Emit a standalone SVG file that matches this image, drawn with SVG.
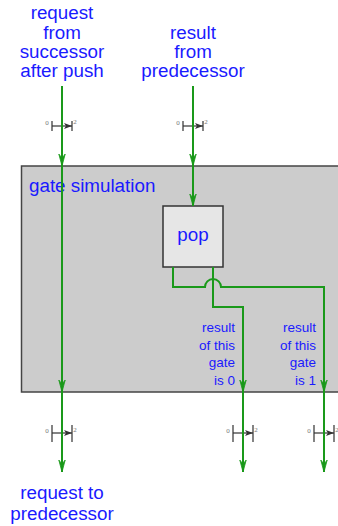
<svg xmlns="http://www.w3.org/2000/svg" width="338" height="526" viewBox="0 0 338 526">
<style>
.lbl{font-family:"Liberation Sans",Arial,sans-serif;fill:#1a1aff;font-size:18.8px;text-anchor:middle}
.sm{font-family:"Liberation Sans",Arial,sans-serif;fill:#1a1aff;font-size:13.5px;text-anchor:end}
.wire{fill:none;stroke:#1a991a;stroke-width:2}
.dl{stroke:#333;stroke-width:1.2;fill:none}
.dt{font-family:"Liberation Serif",serif;font-size:7px;fill:#777;text-anchor:middle}
</style>
<defs>
<marker id="ah" viewBox="0 0 12 8" refX="12" refY="4" markerWidth="12" markerHeight="8" markerUnits="userSpaceOnUse" orient="auto">
<path d="M0,0.8 L12,4 L0,7.2 L4,4 Z" fill="#1a991a" stroke="#1a991a" stroke-width="0.8" stroke-linejoin="round"/>
</marker>
<marker id="dh" viewBox="0 0 8 6" refX="8" refY="3" markerWidth="8" markerHeight="6" markerUnits="userSpaceOnUse" orient="auto">
<path d="M0,0 L8,3 L0,6 L2,3 Z" fill="#333"/>
</marker>
</defs>
<g id="gate-simulation">
<rect x="21.5" y="166" width="330" height="226" fill="#cccccc" stroke="#444" stroke-width="1.5"/>
<text class="lbl" x="29" y="192" style="text-anchor:start">gate simulation</text>
</g>
<g id="pop">
<rect x="163" y="206" width="60" height="61" fill="#e6e6e6" stroke="#333" stroke-width="1.5"/>
<text class="lbl" x="193" y="241">pop</text>
</g>
<g id="label-request-from-successor">
<text class="lbl" x="62" y="19">request</text>
<text class="lbl" x="62" y="39">from</text>
<text class="lbl" x="62" y="58">successor</text>
<text class="lbl" x="62" y="77">after push</text>
</g>
<g id="label-result-from-predecessor">
<text class="lbl" x="193" y="39">result</text>
<text class="lbl" x="193" y="58">from</text>
<text class="lbl" x="193" y="77">predecessor</text>
</g>
<g id="label-result-0">
<text class="sm" x="235" y="332">result</text>
<text class="sm" x="235" y="349.5">of this</text>
<text class="sm" x="235" y="367">gate</text>
<text class="sm" x="235" y="385">is 0</text>
</g>
<g id="label-result-1">
<text class="sm" x="316" y="332">result</text>
<text class="sm" x="316" y="349.5">of this</text>
<text class="sm" x="316" y="367">gate</text>
<text class="sm" x="316" y="385">is 1</text>
</g>
<g id="label-request-to-predecessor">
<text class="lbl" x="62" y="499">request to</text>
<text class="lbl" x="62" y="520">predecessor</text>
</g>
<g id="delay-top-left">
<path class="dl" d="M52,121 V131 M72,121 V131"/>
<path class="dl" d="M52,126 H72" marker-end="url(#dh)"/>
<text class="dt" x="47" y="125">0</text><text class="dt" x="75" y="124">2</text>
</g>
<g id="delay-top-mid">
<path class="dl" d="M183,121 V131 M203,121 V131"/>
<path class="dl" d="M183,126 H203" marker-end="url(#dh)"/>
<text class="dt" x="178" y="125">0</text><text class="dt" x="206" y="124">2</text>
</g>
<g id="delay-bottom-left">
<path class="dl" d="M52,425 V442 M72,425 V442"/>
<path class="dl" d="M52,433 H72" marker-end="url(#dh)"/>
<text class="dt" x="47" y="433">0</text><text class="dt" x="75" y="432">2</text>
</g>
<g id="delay-bottom-mid">
<path class="dl" d="M233,425 V442 M253,425 V442"/>
<path class="dl" d="M233,433 H253" marker-end="url(#dh)"/>
<text class="dt" x="228" y="433">0</text><text class="dt" x="256" y="432">2</text>
</g>
<g id="delay-bottom-right">
<path class="dl" d="M314,425 V442 M334,425 V442"/>
<path class="dl" d="M314,433 H334" marker-end="url(#dh)"/>
<text class="dt" x="309" y="433">0</text><text class="dt" x="337" y="432">2</text>
</g>
<g id="connectors">
<path class="wire" d="M62,86 V166" marker-end="url(#ah)"/>
<path class="wire" d="M62,166 V392" marker-end="url(#ah)"/>
<path class="wire" d="M62,392 V472" marker-end="url(#ah)"/>
<path class="wire" d="M193,86 V166" marker-end="url(#ah)"/>
<path class="wire" d="M193,166 V206" marker-end="url(#ah)"/>
<path class="wire" d="M173,267 V287 H205 A8,8 0 0 1 221,287 H324 V392" marker-end="url(#ah)"/>
<path class="wire" d="M324,392 V472" marker-end="url(#ah)"/>
<path class="wire" d="M213,267 V307 H243 V392" marker-end="url(#ah)"/>
<path class="wire" d="M243,392 V472" marker-end="url(#ah)"/>
</g>
</svg>
